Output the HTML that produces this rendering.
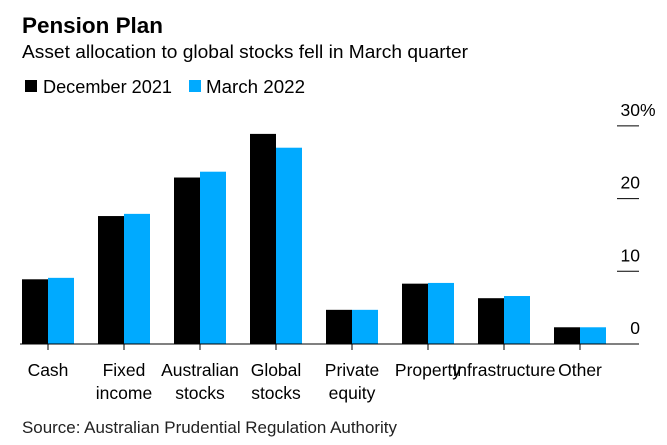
<!DOCTYPE html>
<html><head><meta charset="utf-8"><style>
html,body{margin:0;padding:0;background:#fff;}
svg{display:block;font-family:"Liberation Sans",Arial,sans-serif;}
</style></head><body>
<svg id="chart" width="667" height="445" viewBox="0 0 667 445">
<text x="22" y="33" font-size="22" font-weight="bold" fill="#000" textLength="141" lengthAdjust="spacingAndGlyphs">Pension Plan</text>
<text x="22" y="58" font-size="18" fill="#000" textLength="446" lengthAdjust="spacingAndGlyphs">Asset allocation to global stocks fell in March quarter</text>
<g>
<rect x="25" y="80" width="12" height="12" fill="#000"/>
<text x="43" y="93" font-size="18" textLength="129" lengthAdjust="spacingAndGlyphs">December 2021</text>
<rect x="189" y="80" width="12" height="12" fill="#00aaff"/>
<text x="206" y="93" font-size="18" textLength="99" lengthAdjust="spacingAndGlyphs">March 2022</text>
</g>
<g id="plot"></g>
<text x="22" y="433" font-size="16.5" fill="#222" textLength="375" lengthAdjust="spacingAndGlyphs">Source: Australian Prudential Regulation Authority</text>
</svg>
<script>
const categories=[["Cash"],["Fixed","income"],["Australian","stocks"],["Global","stocks"],["Private","equity"],["Property"],["Infrastructure"],["Other"]];
const dec2021=[8.9,17.6,22.9,28.9,4.7,8.3,6.3,2.3];
const mar2022=[9.1,17.9,23.7,27.0,4.7,8.4,6.6,2.3];
const ticks=[0,10,20,30];
const tickLabels=["0","10","20","30"];
const NS="http://www.w3.org/2000/svg";
const g=document.getElementById('plot');
const y0=344,pxPer=7.27;
function yScale(v){return y0-v*pxPer;}
function xCenter(i){return 48+i*76;}
function mk(tag,attrs){const e=document.createElementNS(NS,tag);for(const k in attrs)e.setAttribute(k,attrs[k]);g.appendChild(e);return e;}
ticks.forEach((t,i)=>{
  if(t>0){const l=mk('line',{x1:617,x2:639,y1:yScale(t),y2:yScale(t),stroke:'#000','stroke-width':1});
  
  }
  const tx=mk('text',{x:640,y:yScale(t)-10,'font-size':17.5,'text-anchor':'end'});
  tx.textContent=tickLabels[i];
  
  
  if(i===ticks.length-1){
    const pc=mk('text',{x:640,y:yScale(t)-10,'font-size':17.5});
    pc.textContent='%';
    
    
  }
});
categories.forEach((c,i)=>{
  const cx=xCenter(i);
  const b1=mk('rect',{x:cx-26,y:yScale(dec2021[i]),width:26,height:y0-yScale(dec2021[i]),fill:'#000'});
  
  
  const b2=mk('rect',{x:cx,y:yScale(mar2022[i]),width:26,height:y0-yScale(mar2022[i]),fill:'#00aaff'});
  
  
  const tk=mk('line',{x1:cx,x2:cx,y1:y0,y2:y0+6,stroke:'#000','stroke-width':1});
  
  
  c.forEach((ln,j)=>{
    const t=mk('text',{x:cx,y:376+j*23,'font-size':17.5,'text-anchor':'middle'});
    t.textContent=ln;
    
    
  });
});
const base=mk('line',{x1:20,x2:639,y1:y0,y2:y0,stroke:'#000','stroke-width':1});


</script>
</body></html>
